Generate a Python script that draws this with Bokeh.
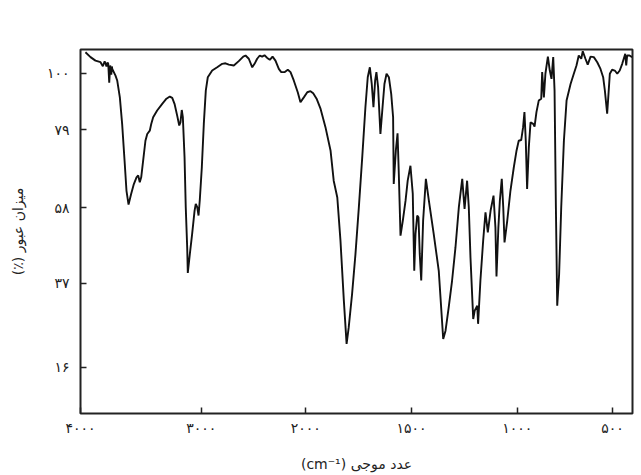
import numpy as np
from bokeh.plotting import figure
from bokeh.models import FixedTicker, Range1d
from bokeh.embed import file_html
from bokeh.resources import INLINE

# ---- data (wavenumber in cm^-1, transmittance in %) ----
wavenumber = [
    3959, 3917, 3876, 3834, 3815, 3800, 3793, 3785, 3776, 3770,
    3762, 3754, 3745, 3740, 3737, 3724,
    3710, 3696, 3674, 3655, 3635, 3619, 3602, 3580, 3558, 3536,
    3522, 3509, 3497, 3481, 3462, 3447, 3426, 3414, 3398, 3365,
    3323, 3288, 3260, 3240, 3221, 3199, 3182, 3172, 3161, 3152,
    3138, 3128, 3116, 3111, 3094, 3075, 3055, 3045, 3033, 3022,
    3012, 2994, 2975, 2956, 2937, 2895, 2847, 2799, 2768, 2736,
    2688, 2641, 2598, 2576, 2545, 2512, 2490, 2465, 2440, 2417,
    2395, 2369, 2344, 2318, 2290, 2258, 2235, 2204, 2172, 2146,
    2115, 2077, 2051, 2019, 1993, 1978, 1965, 1949, 1930, 1907,
    1883, 1868, 1851, 1836, 1820, 1807, 1797, 1781, 1765, 1749,
    1733, 1718, 1707, 1697, 1688, 1680, 1672, 1666, 1658, 1647,
    1637, 1628, 1618, 1607, 1596, 1587, 1584, 1574, 1566, 1560,
    1552, 1541, 1528, 1518, 1505, 1494, 1487, 1481, 1473, 1467,
    1461, 1454, 1445, 1432, 1418, 1395, 1371, 1350, 1339, 1324,
    1308, 1292, 1276, 1260, 1249, 1237, 1229, 1221, 1208, 1201,
    1189, 1185, 1174, 1161, 1150, 1139, 1126, 1112, 1103, 1098,
    1089, 1082, 1073, 1066, 1060, 1047, 1032, 1016, 1003, 992,
    979, 969, 962, 955, 948, 939, 930, 916, 909, 899,
    887, 874, 869, 860, 852, 839, 829, 820, 811, 804,
    797, 790, 780, 769, 755, 741, 720, 703, 689, 677,
    664, 656, 642, 630, 615, 598, 580, 563, 549, 540,
    528, 521, 514, 502, 488, 475, 462, 449, 441, 433,
    428, 423, 411, 397,
]
transmittance = [
    107.8, 106.0, 104.7, 104.1, 102.6, 104.4, 103.7, 102.5, 104.0, 103.5,
    96.5, 102.9, 99.5, 102.5, 101.6, 100.4,
    99.1, 97.3, 91.0, 81.1, 70.7, 62.6, 58.9, 61.8, 64.4, 66.2,
    66.7, 64.9, 66.2, 70.7, 76.0, 77.8, 78.7, 81.1, 83.6, 86.1,
    88.6, 90.5, 91.3, 90.8, 88.6, 84.2, 80.5, 81.7, 86.3, 83.6,
    71.6, 58.2, 47.0, 39.9, 45.2, 50.8, 57.2, 59.1, 58.2, 55.9,
    60.0, 68.9, 81.1, 93.5, 98.5, 101.0, 102.2, 103.5, 103.7, 103.2,
    102.9, 104.5, 106.2, 106.6, 105.4, 102.2, 103.5, 105.4, 106.6, 106.2,
    106.7, 105.7, 105.0, 106.2, 104.7, 101.6, 100.4, 100.4, 101.3, 100.4,
    97.3, 92.9, 89.2, 91.0, 92.9, 93.3, 92.5, 90.5, 86.7, 79.9,
    73.4, 65.3, 60.8, 48.9, 32.7, 21.9, 26.0, 34.4, 45.2, 58.2,
    71.6, 87.3, 98.5, 102.2, 96.0, 87.3, 97.3, 100.4, 94.8, 77.8,
    87.3, 96.0, 99.8, 98.5, 92.3, 83.6, 64.4, 73.4, 78.0, 67.1,
    50.3, 54.5, 60.0, 65.3, 69.3, 61.8, 40.5, 50.8, 55.9, 55.4,
    45.2, 37.8, 54.5, 65.8, 60.0, 50.8, 40.5, 23.1, 25.2, 31.0,
    37.8, 47.0, 58.2, 65.8, 57.7, 65.3, 58.2, 44.2, 28.1, 30.2,
    31.4, 26.9, 37.8, 48.9, 56.8, 51.2, 57.2, 61.3, 52.6, 38.9,
    52.6, 60.0, 65.8, 58.2, 48.4, 54.5, 62.6, 68.9, 73.4, 76.0,
    76.2, 79.9, 85.5, 76.0, 63.1, 74.3, 81.7, 81.1, 80.1, 85.5,
    89.8, 90.5, 100.4, 91.0, 99.8, 106.2, 101.0, 97.9, 106.0, 93.5,
    58.2, 31.4, 39.6, 58.2, 76.0, 89.8, 96.0, 99.8, 102.9, 106.6,
    105.4, 108.2, 105.4, 103.2, 106.2, 106.0, 104.1, 101.6, 98.5, 93.5,
    84.9, 92.3, 99.8, 101.3, 101.0, 99.8, 101.0, 103.5, 105.4, 107.2,
    102.9, 106.6, 106.6, 106.0,
]

x_tick_values = [4000, 3000, 2000, 1500, 1000, 500]
x_tick_labels = ["۴۰۰۰", "۳۰۰۰", "۲۰۰۰", "۱۵۰۰", "۱۰۰۰", "۵۰۰"]
y_tick_values = [100, 79, 58, 37, 16]
y_tick_labels = ["۱۰۰", "۷۹", "۵۸", "۳۷", "۱۶"]

x_title = "(cm⁻¹) عدد موجی"
y_title = "\u200fمیزان عبور (٪)\u200f"

# ---- piecewise axis calibration of the printed scales ----
X_CAL_VAL = [395, 500, 1000, 1500, 2000, 3000, 4000]
X_CAL_POS = [552.0, 532.0, 436.7, 331.0, 225.3, 120.7, 0.0]
Y_CAL_VAL = [4.5, 16, 37, 58, 79, 100, 108.84]
Y_CAL_POS = [0.0, 46.0, 130.0, 205.4, 283.7, 340.0, 363.7]


def to_x(v):
    return np.interp(np.asarray(v, dtype=float), X_CAL_VAL, X_CAL_POS)


def to_y(v):
    return np.interp(np.asarray(v, dtype=float), Y_CAL_VAL, Y_CAL_POS)


p = figure(
    width=640, height=475,
    output_backend="svg", toolbar_location=None,
    x_range=Range1d(0, 552), y_range=Range1d(0, 363.7),
    min_border_left=80, min_border_right=8,
    min_border_top=49, min_border_bottom=62,
    background_fill_color="white", border_fill_color="white",
)
p.grid.visible = False
p.outline_line_color = "#222222"
p.outline_line_width = 2

p.line(to_x(wavenumber), to_y(transmittance), line_color="#111111", line_width=1.9)

xt = [round(float(v), 3) for v in to_x(x_tick_values)]
yt = [round(float(v), 3) for v in to_y(y_tick_values)]
p.xaxis.ticker = FixedTicker(ticks=xt)
p.yaxis.ticker = FixedTicker(ticks=yt)
p.xaxis.major_label_overrides = {k: s for k, s in zip(xt, x_tick_labels)}
p.yaxis.major_label_overrides = {k: s for k, s in zip(yt, y_tick_labels)}

for ax in (p.xaxis[0], p.yaxis[0]):
    ax.axis_line_color = None
    ax.major_tick_in = 6
    ax.major_tick_out = 0
    ax.major_tick_line_color = "#222222"
    ax.major_tick_line_width = 1.5
    ax.minor_tick_line_color = None
    ax.major_label_text_font = "DejaVu Sans"
    ax.major_label_text_font_size = "14px"
    ax.major_label_text_color = "#222222"
    ax.axis_label_text_font = "DejaVu Sans"
    ax.axis_label_text_font_size = "14px"
    ax.axis_label_text_font_style = "normal"
    ax.axis_label_text_color = "#222222"

p.xaxis.major_label_standoff = 6
p.yaxis.major_label_standoff = 11
p.xaxis.axis_label = x_title
p.yaxis.axis_label = y_title
p.xaxis.axis_label_standoff = 17
p.yaxis.axis_label_standoff = 18

open("out.html", "w").write(file_html(p, INLINE))
